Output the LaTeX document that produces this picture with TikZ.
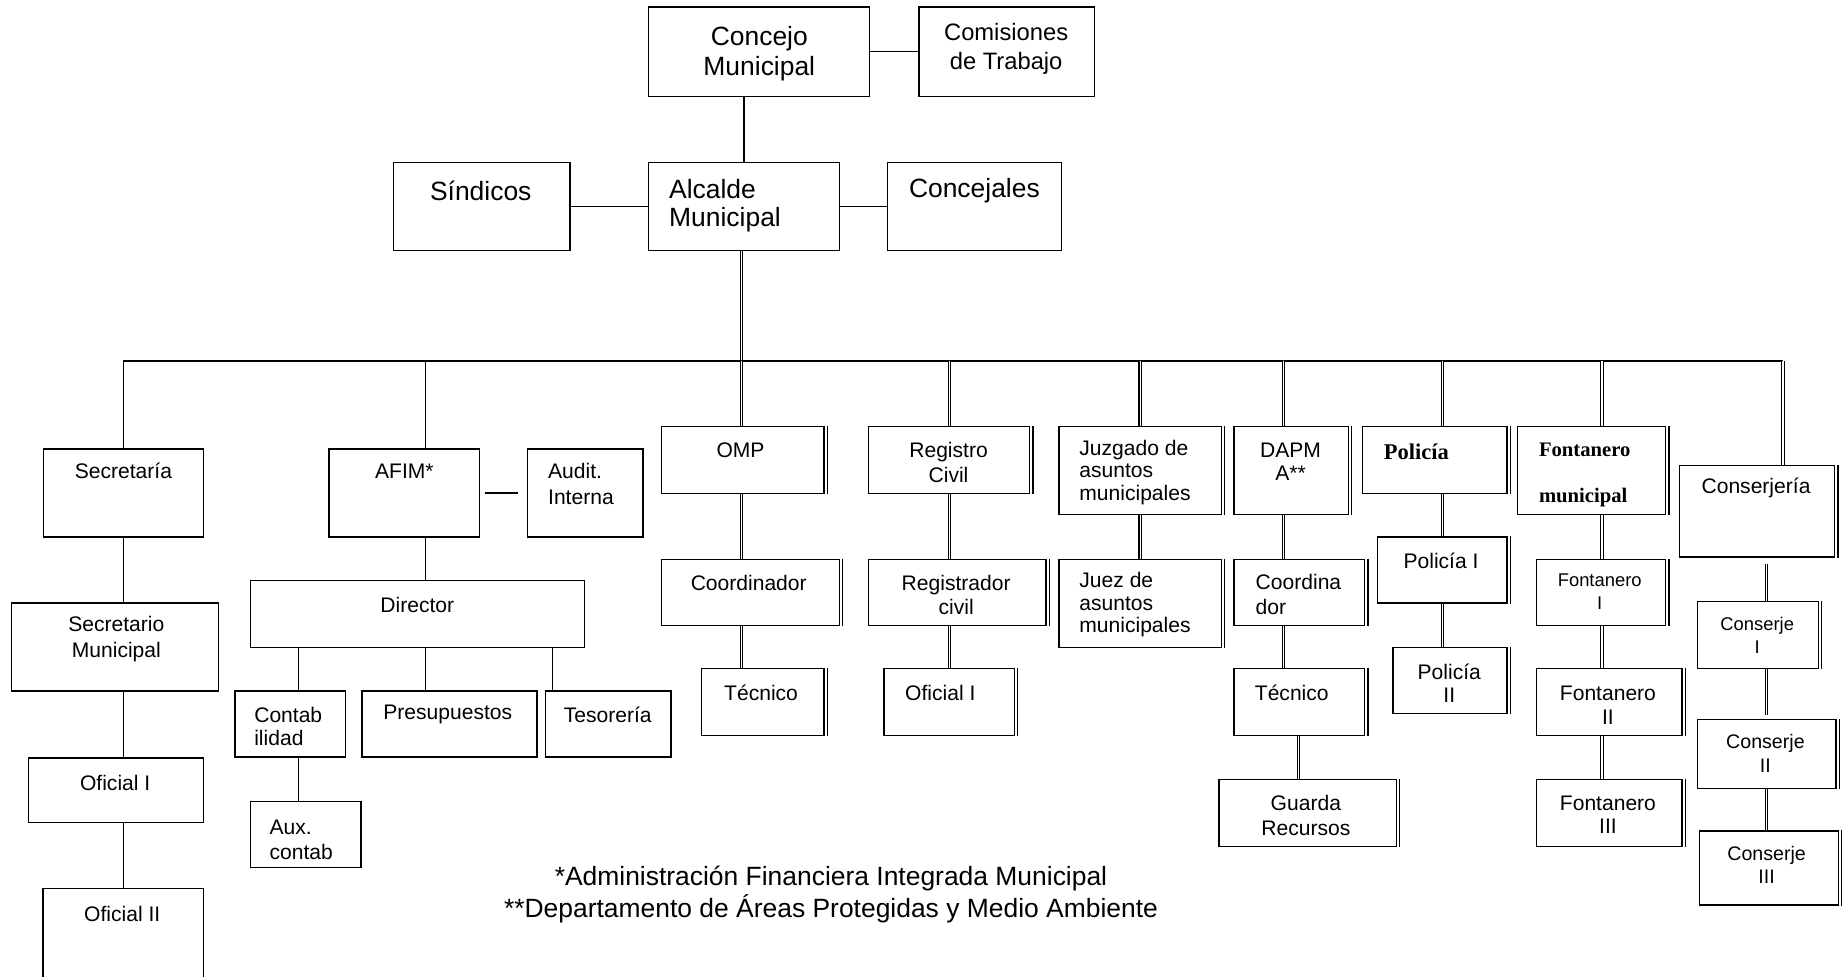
\documentclass[tikz,border=0pt]{standalone}
\usepackage{fontspec}
\setmainfont{Liberation Sans}
\newfontfamily\titlefont{Liberation Serif}
\usetikzlibrary{fit}

\begin{document}
\begin{tikzpicture}[x=0.02cm,y=-0.02cm,
	box/.style={draw,line width=0.65pt,inner sep=0pt},
	txt/.style={inner sep=0pt,align=center,font=\fontsize{10.2}{11.8}\selectfont},
	big/.style={inner sep=0pt,align=center,font=\fontsize{12.8}{14.6}\selectfont},
	sml/.style={inner sep=0pt,align=center,font=\fontsize{8.9}{10.8}\selectfont},
	mid/.style={inner sep=0pt,align=center,font=\fontsize{9.5}{11.4}\selectfont},
	boldtxt/.style={inner sep=0pt,align=left,font=\titlefont\bfseries},
	link/.style={line width=0.6pt},
	dlink/.style={double,double distance=0.6pt,line width=0.5pt},
	bus/.style={line width=1pt}]
				\useasboundingbox (0,0) rectangle (1568,831);
				
				% top level
				\node[box,fit={(552,6) (740,82)}] (concejo) {};
				\node[box,fit={(782,6) (931,82)}] (comisiones) {};
				\node[box,fit={(335,138) (485,213)}] (sindicos) {};
				\node[box,fit={(552,138) (714,213)}] (alcalde) {};
				\node[box,fit={(755,138) (903,213)}] (concejales) {};
				
				\node[big] (concejo-t) at (646,45.5) {Concejo\\Municipal};
				\node[inner sep=0pt,align=center,font=\fontsize{11.5}{13.7}\selectfont] (comisiones-t) at (856,41.5) {Comisiones\\de Trabajo};
				\node[big] (sindicos-t) at (409,162) {Síndicos};
				\node[big,align=left,anchor=west,font=\fontsize{12.8}{13.8}\selectfont] (alcalde-t) at (569,175) {Alcalde\\Municipal};
				\node[big] (concejales-t) at (829,162) {Concejales};
				
				% taps on the bus
				\coordinate (tsec) at (105,307);
				\coordinate (tafim) at (362,307);
				\coordinate (tomp) at (631,307);
				\coordinate (treg) at (808,307);
				\coordinate (tjuz) at (970,307);
				\coordinate (tdap) at (1092,307);
				\coordinate (tpol) at (1227,307);
				\coordinate (tfon) at (1363,307);
				\coordinate (tcon) at (1517,307);
				\coordinate (xa) at (254,0);
				\coordinate (xt) at (470,0);
				\coordinate (xg) at (1105,0);
				\coordinate (xc) at (1503,0);
				
				% Secretaria
				\node[box,fit={(37,382) (173,457)}] (secretaria) {};
				\node[box,fit={(10,513) (186,588)}] (secretario) {};
				\node[box,fit={(24,645) (173,700)}] (oficiala) {};
				\node[inner sep=0pt,fit={(37,756) (173,831)}] (oficialb) {};
				\draw[line width=0.65pt] (oficialb.south west) -- (oficialb.north west) -- (oficialb.north east) -- (oficialb.south east);
				
				\node[txt] (secretaria-t) at (105,401) {Secretaría};
				\node[txt,font=\fontsize{10.2}{12.5}\selectfont] (secretario-t) at (99,544) {Secretario\\Municipal};
				\node[txt] (oficiala-t) at (98,666) {Oficial I};
				\node[txt] (oficialb-t) at (104,778) {Oficial II};
				
				% AFIM
				\node[box,fit={(280,382) (408,457)}] (afim) {};
				\node[box,fit={(449,382) (547,457)}] (audit) {};
				\node[box,fit={(213,494) (497,551)}] (director) {};
				\node[box,fit={(200,588) (294,644)}] (contab) {};
				\node[box,fit={(308,588) (457,644)}] (presup) {};
				\node[box,fit={(464,588) (571,644)}] (tesoreria) {};
				\node[box,fit={(213,682) (307,738)}] (aux) {};
				
				\node[txt] (afim-t) at (344,401) {AFIM*};
				\node[txt,align=left,anchor=west,font=\fontsize{10.2}{12.5}\selectfont] (audit-t) at (466,412) {Audit.\\Interna};
				\node[txt] (director-t) at (355,515) {Director};
				\node[txt,align=left,anchor=west,font=\fontsize{10.2}{11.4}\selectfont] (contab-t) at (216,618) {Contab\\ilidad};
				\node[txt] (presup-t) at (381,608) {Presupuestos};
				\node[txt] (tesoreria-t) at (517,608) {Tesorería};
				\node[txt,align=left,anchor=west] (aux-t) at (229,714.5) {Aux.\\contab};
				
				% OMP
				\node[box,fit={(563,363) (701,420)}] (omp) {};
				\node[box,fit={(563,476) (714,532)}] (coordinador) {};
				\node[box,fit={(597,569) (701,626)}] (tecnicoa) {};
				\node[txt] (omp-t) at (630,383) {OMP};
				\node[txt] (coordinador-t) at (637,496) {Coordinador};
				\node[txt] (tecnicoa-t) at (647.5,589.5) {Técnico};
				
				% Registro
				\node[box,fit={(739,363) (876,420)}] (registro) {};
				\node[box,fit={(739,476) (890,532)}] (registrador) {};
				\node[box,fit={(752,569) (863,626)}] (oficialr) {};
				\node[txt] (registro-t) at (807,393.5) {Registro\\Civil};
				\node[txt,font=\fontsize{10.2}{11.4}\selectfont] (registrador-t) at (813.5,506) {Registrador\\civil};
				\node[txt] (oficialr-t) at (800,589.5) {Oficial I};
				
				% Juzgado
				\node[box,fit={(901,363) (1039,438)}] (juzgado) {};
				\node[box,fit={(901,476) (1039,551)}] (juez) {};
				\node[txt,align=left,anchor=west,font=\fontsize{10.2}{10.9}\selectfont] (juzgado-t) at (918,402) {Juzgado de\\asuntos\\municipales};
				\node[txt,align=left,anchor=west,font=\fontsize{10.2}{10.9}\selectfont] (juez-t) at (918,514.5) {Juez de\\asuntos\\municipales};
				
				% DAPMA
				\node[box,fit={(1050,363) (1147,438)}] (dapma) {};
				\node[box,fit={(1050,476) (1161,532)}] (coordina) {};
				\node[box,fit={(1050,569) (1161,626)}] (tecnicob) {};
				\node[box,fit={(1037,663) (1188,720)}] (guarda) {};
				\node[txt,font=\fontsize{10.2}{11.1}\selectfont] (dapma-t) at (1098,393) {DAPM\\A**};
				\node[txt,align=left,anchor=west,font=\fontsize{10.2}{12}\selectfont] (coordina-t) at (1068,505.5) {Coordina\\dor};
				\node[txt] (tecnicob-t) at (1099,589.5) {Técnico};
				\node[txt,font=\fontsize{10.2}{12}\selectfont] (guarda-t) at (1111,693.5) {Guarda\\Recursos};
				
				% Policia
				\node[box,fit={(1159,363) (1282,420)}] (policia) {};
				\node[box,fit={(1172,457) (1282,513)}] (policiaa) {};
				\node[box,fit={(1185,551) (1282,607)}] (policiab) {};
				\node[boldtxt,anchor=west,font=\fontsize{10.9}{12}\titlefont\bfseries] (policia-t) at (1177,384) {Policía};
				\node[txt] (policiaa-t) at (1226,477) {Policía I};
				\node[txt,font=\fontsize{10.2}{11.1}\selectfont] (policiab-t) at (1233,581) {Policía\\II};
				
				% Fontanero
				\node[box,fit={(1291,363) (1417,438)}] (fontanero) {};
				\node[box,fit={(1307,476) (1417,532)}] (fontaneroa) {};
				\node[box,fit={(1307,569) (1431,626)}] (fontanerob) {};
				\node[box,fit={(1307,663) (1431,720)}] (fontaneroc) {};
				\node[boldtxt,anchor=west,font=\fontsize{10}{21.9}\titlefont\bfseries] (fontanero-t) at (1309,404) {Fontanero\\municipal};
				\node[sml] (fontaneroa-t) at (1361,503.5) {Fontanero\\I};
				\node[txt,font=\fontsize{10.2}{11.7}\selectfont] (fontanerob-t) at (1368,600) {Fontanero\\II};
				\node[txt,font=\fontsize{10.2}{11.4}\selectfont] (fontaneroc-t) at (1368,693) {Fontanero\\III};
				
				% Conserjeria
				\node[box,fit={(1429,396) (1561,474)}] (conserjeria) {};
				\node[box,fit={(1444,512) (1547,569)}] (conserjea) {};
				\node[box,fit={(1444,612) (1562,671)}] (conserjeb) {};
				\node[box,fit={(1446,707) (1564,770)}] (conserjec) {};
				\node[txt] (conserjeria-t) at (1494,415) {Conserjería};
				\node[sml] (conserjea-t) at (1495,540.5) {Conserje\\I};
				\node[mid] (conserjeb-t) at (1502,641) {Conserje\\II};
				\node[mid] (conserjec-t) at (1503,736) {Conserje\\III};
				
				% doubled right edges
				\foreach \n in {omp,coordinador,tecnicoa,registro,registrador,oficialr,juzgado,juez,dapma,coordina,tecnicob,guarda,policia,policiaa,policiab,fontanero,fontaneroa,fontanerob,fontaneroc,conserjeria,conserjea,conserjeb,conserjec}
					\draw[line width=0.65pt] ([xshift=1.3pt]\n.north east) -- ([xshift=1.3pt]\n.south east);
				
				% connectors, top
				\draw[link] (concejo) -- (comisiones);
				\draw[link] (alcalde.north) -- (alcalde.north |- concejo.south);
				\draw[link] (sindicos) -- (alcalde);
				\draw[link] (alcalde) -- (concejales);
				\draw[dlink] (alcalde.south -| tomp) -- (tomp);
				\draw[bus] (tsec) -- (tcon);
				
				% connectors, left
				\draw[link] (tsec) -- (tsec |- secretaria.north);
				\foreach \up/\dn in {secretaria/secretario,secretario/oficiala,oficiala/oficialb}
					\draw[link] (\up.south -| tsec) -- (\dn.north -| tsec);
				\draw[link] (tafim) -- (tafim |- afim.north);
				\draw[link] (afim.south -| tafim) -- (director.north -| tafim);
				\draw[link,shorten <=2.3pt,shorten >=4.6pt] (afim) -- (audit);
				\draw[link] (director.south -| xa) -- (contab.north -| xa);
				\draw[link] (director.south -| tafim) -- (presup.north -| tafim);
				\draw[link] (director.south -| xt) -- (tesoreria.north -| xt);
				\draw[link] (contab.south -| xa) -- (aux.north -| xa);
				
				% connectors, right
				\foreach \tp/\dn in {tomp/omp,treg/registro,tjuz/juzgado,tdap/dapma,tpol/policia,tfon/fontanero,tcon/conserjeria}
					\draw[dlink] (\tp) -- (\tp |- \dn.north);
				\foreach \tp/\up/\dn in {tomp/omp/coordinador,tomp/coordinador/tecnicoa,treg/registro/registrador,treg/registrador/oficialr,tjuz/juzgado/juez,tdap/dapma/coordina,tdap/coordina/tecnicob,xg/tecnicob/guarda,tpol/policia/policiaa,tpol/policiaa/policiab,tfon/fontanero/fontaneroa,tfon/fontaneroa/fontanerob,tfon/fontanerob/fontaneroc}
					\draw[dlink] (\up.south -| \tp) -- (\dn.north -| \tp);
				\draw[dlink,shorten <=2.8pt] (conserjeria.south -| xc) -- (conserjea.north -| xc);
				\draw[dlink,shorten >=1.7pt] (conserjea.south -| xc) -- (conserjeb.north -| xc);
				\draw[dlink] (conserjeb.south -| xc) -- (conserjec.north -| xc);
				
				% notes
				\node[big,font=\fontsize{12.8}{15.4}\selectfont] (notas) at (707,761) {*Administración Financiera Integrada Municipal\\**Departamento de Áreas Protegidas y Medio Ambiente};
\end{tikzpicture}
\end{document}
